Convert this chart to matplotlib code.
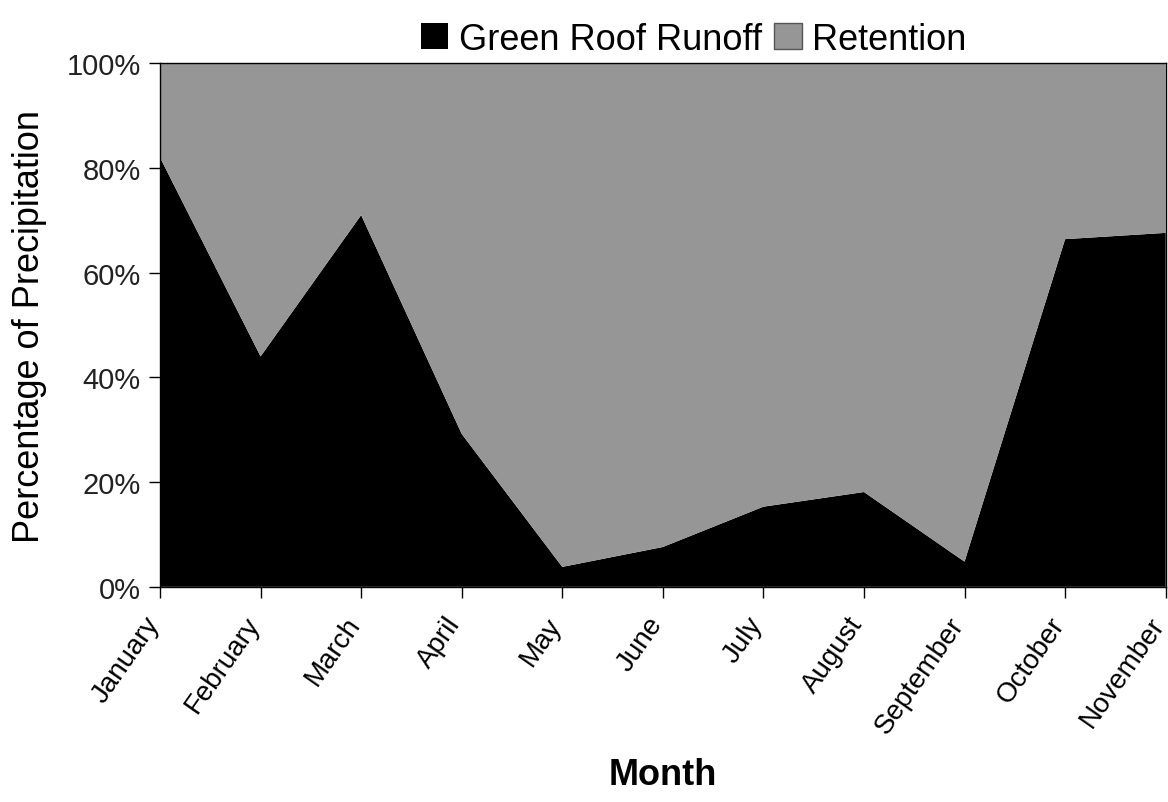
import matplotlib.pyplot as plt
import matplotlib.transforms as mtransforms
import numpy as np

plt.rcParams['font.family'] = ['Liberation Sans', 'DejaVu Sans']

# values (percent of precipitation)
months = ['January', 'February', 'March', 'April', 'May', 'June',
          'July', 'August', 'September', 'October', 'November']
runoff = [82.0, 44.0, 71.0, 29.2, 3.8, 7.6, 15.3, 18.1, 4.8, 66.4, 67.6]
retention = [100 - r for r in runoff]

x = np.arange(len(months))

fig = plt.figure(figsize=(11.68, 8.03), dpi=100)
ax = fig.add_axes([0.137, 0.268, 0.861, 0.652])

ax.stackplot(x, runoff, retention, colors=['#000000', '#969696'],
             labels=['Green Roof Runoff', 'Retention'])

ax.set_xlim(0, len(months) - 1)
ax.set_ylim(0, 100)
ax.set_yticks([0, 20, 40, 60, 80, 100])
ax.set_yticklabels(['0%', '20%', '40%', '60%', '80%', '100%'], fontsize=21, color='#222222')
ax.set_xticks(x)
ax.set_xticklabels(months, rotation=55, ha='right', rotation_mode='anchor', fontsize=20)
ax.tick_params(axis='both', direction='out', length=8, width=1)
ax.tick_params(axis='x', pad=10)
ax.tick_params(axis='y', pad=6)
# shift the rotated labels a bit left so their ends sit under the ticks
shift = mtransforms.ScaledTranslation(-12 / 72, 0, fig.dpi_scale_trans)
for lab in ax.get_xticklabels():
    lab.set_transform(lab.get_transform() + shift)

for s in ax.spines.values():
    s.set_linewidth(1)
    s.set_color('black')

ax.set_ylabel('Percentage of Precipitation', fontsize=26, labelpad=14)
ax.set_xlabel('Month', fontsize=26, fontweight='bold', labelpad=14)

leg = fig.legend(loc='upper center', bbox_to_anchor=(0.594, 1.012), ncol=2, frameon=False,
                 fontsize=26, handlelength=0.75, handleheight=0.75, handletextpad=0.3,
                 columnspacing=0.35)
leg.legend_handles[1].set_edgecolor('#555555')

plt.savefig('out.png', dpi=100)
